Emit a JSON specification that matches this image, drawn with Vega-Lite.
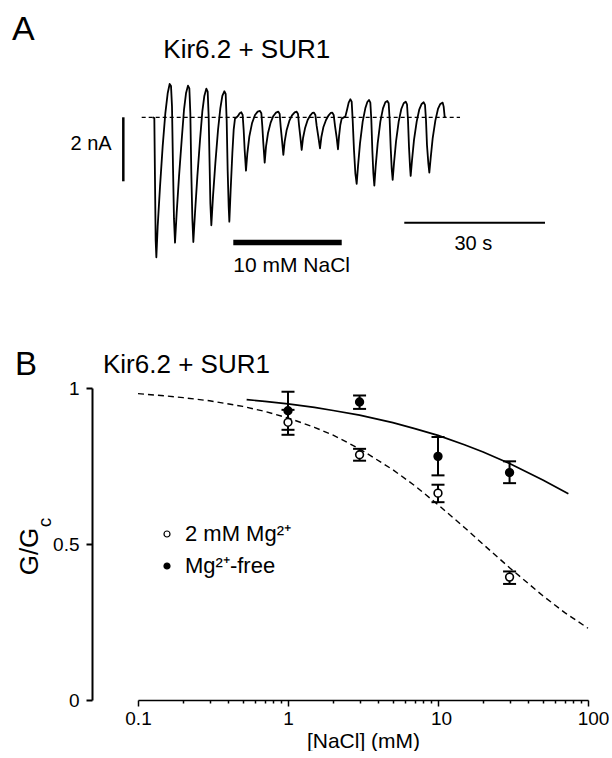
{
  "$schema": "https://vega.github.io/schema/vega-lite/v6.json",
  "background": "white",
  "padding": {"left": 12, "top": 5, "right": 0, "bottom": 0},
  "spacing": 108,
  "bounds": "flush",
  "config": {
    "view": {"stroke": null},
    "font": "Liberation Sans",
    "axis": {"grid": false, "labelFont": "Liberation Sans", "titleFont": "Liberation Sans", "labelColor": "black", "titleColor": "black", "domainColor": "black", "tickColor": "black", "titleFontWeight": "normal"},
    "text": {"font": "Liberation Sans", "color": "black"}
  },
  "vconcat": [
    {
      "width": 450,
      "height": 275,
      "encoding": {
        "x": {"field": "t", "type": "quantitative", "scale": {"domain": [8.085, 103.83], "nice": false, "zero": false}, "axis": null},
        "y": {"field": "i", "type": "quantitative", "scale": {"domain": [-5.084, 3.509], "nice": false, "zero": false}, "axis": null}
      },
      "layer": [
        {
          "data": {"values": [{"t": 8.87, "t2": 76.6, "i": 0}]},
          "mark": {"type": "rule", "color": "black", "strokeWidth": 1.2, "strokeDash": [4, 3]},
          "encoding": {"x2": {"field": "t2"}}
        },
        {
          "data": {"values": [
            {"t": 11.21, "i": 0}, {"t": 11.56, "i": -0.021}, {"t": 11.70, "i": -1.958}, {"t": 11.84, "i": -3.833}, {"t": 11.99, "i": -4.375},
            {"t": 12.27, "i": -3.417}, {"t": 12.77, "i": -2.167}, {"t": 13.33, "i": -0.917}, {"t": 13.90, "i": 0.125}, {"t": 14.40, "i": 0.75},
            {"t": 14.82, "i": 1.042}, {"t": 15.11, "i": 0.979}, {"t": 15.32, "i": 0.333}, {"t": 15.53, "i": -1.542}, {"t": 15.74, "i": -3.167},
            {"t": 15.96, "i": -3.917}, {"t": 16.31, "i": -3.0}, {"t": 16.81, "i": -1.854}, {"t": 17.38, "i": -0.708}, {"t": 17.87, "i": 0.229},
            {"t": 18.30, "i": 0.75}, {"t": 18.72, "i": 0.99}, {"t": 19.01, "i": 0.906}, {"t": 19.22, "i": 0.125}, {"t": 19.43, "i": -1.75},
            {"t": 19.65, "i": -3.167}, {"t": 19.86, "i": -3.896}, {"t": 20.21, "i": -3.0}, {"t": 20.71, "i": -1.854}, {"t": 21.28, "i": -0.708},
            {"t": 21.77, "i": 0.177}, {"t": 22.20, "i": 0.667}, {"t": 22.62, "i": 0.896}, {"t": 22.91, "i": 0.802}, {"t": 23.12, "i": 0.021},
            {"t": 23.33, "i": -1.542}, {"t": 23.48, "i": -2.688}, {"t": 23.69, "i": -3.375}, {"t": 24.04, "i": -2.479}, {"t": 24.54, "i": -1.438},
            {"t": 25.11, "i": -0.396}, {"t": 25.60, "i": 0.281}, {"t": 26.03, "i": 0.667}, {"t": 26.45, "i": 0.813}, {"t": 26.74, "i": 0.729},
            {"t": 26.95, "i": -0.083}, {"t": 27.16, "i": -1.646}, {"t": 27.38, "i": -2.792}, {"t": 27.52, "i": -3.26}, {"t": 27.80, "i": -2.271},
            {"t": 28.16, "i": -1.125}, {"t": 28.44, "i": -0.396}, {"t": 28.72, "i": -0.042}, {"t": 29.08, "i": 0}, {"t": 29.36, "i": 0.042},
            {"t": 29.72, "i": 0.125}, {"t": 30.07, "i": 0.156}, {"t": 30.35, "i": 0.073}, {"t": 30.57, "i": -0.396}, {"t": 30.78, "i": -1.021},
            {"t": 31.06, "i": -1.667}, {"t": 31.35, "i": -1.125}, {"t": 31.77, "i": -0.604}, {"t": 32.34, "i": -0.188}, {"t": 32.98, "i": 0.073},
            {"t": 33.55, "i": 0.177}, {"t": 34.04, "i": 0.198}, {"t": 34.33, "i": 0.125}, {"t": 34.54, "i": -0.292}, {"t": 34.75, "i": -0.813},
            {"t": 35.04, "i": -1.417}, {"t": 35.32, "i": -0.917}, {"t": 35.74, "i": -0.5}, {"t": 36.31, "i": -0.167}, {"t": 36.88, "i": 0.042},
            {"t": 37.45, "i": 0.146}, {"t": 37.94, "i": 0.177}, {"t": 38.23, "i": 0.104}, {"t": 38.44, "i": -0.292}, {"t": 38.72, "i": -0.708},
            {"t": 39.01, "i": -1.177}, {"t": 39.29, "i": -0.76}, {"t": 39.72, "i": -0.396}, {"t": 40.28, "i": -0.115}, {"t": 40.85, "i": 0.063},
            {"t": 41.42, "i": 0.156}, {"t": 41.84, "i": 0.177}, {"t": 42.13, "i": 0.104}, {"t": 42.34, "i": -0.24}, {"t": 42.62, "i": -0.604},
            {"t": 42.91, "i": -1.021}, {"t": 43.19, "i": -0.656}, {"t": 43.62, "i": -0.344}, {"t": 44.18, "i": -0.083}, {"t": 44.75, "i": 0.063},
            {"t": 45.18, "i": 0.135}, {"t": 45.53, "i": 0.146}, {"t": 45.82, "i": 0.073}, {"t": 46.10, "i": -0.271}, {"t": 46.45, "i": -0.604},
            {"t": 46.81, "i": -0.969}, {"t": 47.09, "i": -0.625}, {"t": 47.52, "i": -0.313}, {"t": 48.09, "i": -0.083}, {"t": 48.65, "i": 0.063},
            {"t": 49.08, "i": 0.135}, {"t": 49.43, "i": 0.146}, {"t": 49.72, "i": 0.073}, {"t": 50.00, "i": -0.271}, {"t": 50.35, "i": -0.625},
            {"t": 50.64, "i": -1.0}, {"t": 50.85, "i": -0.604}, {"t": 51.13, "i": -0.24}, {"t": 51.42, "i": -0.042}, {"t": 51.77, "i": -0.01},
            {"t": 52.20, "i": 0.021}, {"t": 52.55, "i": 0.229}, {"t": 52.91, "i": 0.458}, {"t": 53.26, "i": 0.563}, {"t": 53.55, "i": 0.49},
            {"t": 53.76, "i": -0.083}, {"t": 54.04, "i": -1.021}, {"t": 54.33, "i": -1.75}, {"t": 54.61, "i": -2.083}, {"t": 54.89, "i": -1.542},
            {"t": 55.32, "i": -0.813}, {"t": 55.89, "i": -0.135}, {"t": 56.45, "i": 0.281}, {"t": 56.88, "i": 0.479}, {"t": 57.23, "i": 0.542},
            {"t": 57.52, "i": 0.458}, {"t": 57.73, "i": -0.083}, {"t": 57.94, "i": -1.021}, {"t": 58.16, "i": -1.75}, {"t": 58.37, "i": -2.135},
            {"t": 58.65, "i": -1.542}, {"t": 59.08, "i": -0.813}, {"t": 59.65, "i": -0.135}, {"t": 60.21, "i": 0.281}, {"t": 60.71, "i": 0.469},
            {"t": 61.13, "i": 0.51}, {"t": 61.42, "i": 0.438}, {"t": 61.63, "i": -0.083}, {"t": 61.84, "i": -0.917}, {"t": 62.06, "i": -1.594},
            {"t": 62.27, "i": -1.958}, {"t": 62.55, "i": -1.438}, {"t": 62.98, "i": -0.76}, {"t": 63.55, "i": -0.135}, {"t": 64.11, "i": 0.26},
            {"t": 64.61, "i": 0.438}, {"t": 65.04, "i": 0.49}, {"t": 65.32, "i": 0.406}, {"t": 65.53, "i": -0.083}, {"t": 65.74, "i": -0.917},
            {"t": 65.96, "i": -1.542}, {"t": 66.10, "i": -1.833}, {"t": 66.38, "i": -1.354}, {"t": 66.81, "i": -0.708}, {"t": 67.38, "i": -0.135},
            {"t": 67.94, "i": 0.25}, {"t": 68.44, "i": 0.417}, {"t": 68.87, "i": 0.469}, {"t": 69.15, "i": 0.385}, {"t": 69.36, "i": -0.083},
            {"t": 69.57, "i": -0.865}, {"t": 69.86, "i": -1.438}, {"t": 70.07, "i": -1.729}, {"t": 70.35, "i": -1.281}, {"t": 70.78, "i": -0.656},
            {"t": 71.35, "i": -0.104}, {"t": 71.91, "i": 0.26}, {"t": 72.41, "i": 0.417}, {"t": 72.91, "i": 0.458}, {"t": 73.12, "i": 0.333},
            {"t": 73.33, "i": 0.021}, {"t": 73.48, "i": 0}
          ]},
          "mark": {"type": "line", "color": "black", "strokeWidth": 1.8, "strokeJoin": "round"}
        },
        {
          "data": {"values": [{"t": 4.96, "i": 0, "i2": -2}]},
          "mark": {"type": "rule", "color": "black", "strokeWidth": 2.5},
          "encoding": {"y2": {"field": "i2"}}
        },
        {
          "data": {"values": [{"t": 28.36, "t2": 51.43, "i": -3.9125}]},
          "mark": {"type": "rule", "color": "black", "strokeWidth": 5.5},
          "encoding": {"x2": {"field": "t2"}}
        },
        {
          "data": {"values": [{"t": 64.74, "t2": 94.68, "i": -3.294}]},
          "mark": {"type": "rule", "color": "black", "strokeWidth": 2},
          "encoding": {"x2": {"field": "t2"}}
        },
        {
          "data": {"values": [{"t": -18.72, "i": 2.43, "label": "A"}]},
          "mark": {"type": "text", "align": "left", "baseline": "alphabetic", "fontSize": 34},
          "encoding": {"text": {"field": "label"}}
        },
        {
          "data": {"values": [{"t": 13.47, "i": 1.844, "label": "Kir6.2 + SUR1"}]},
          "mark": {"type": "text", "align": "left", "baseline": "alphabetic", "fontSize": 26},
          "encoding": {"text": {"field": "label"}}
        },
        {
          "data": {"values": [{"t": 2.49, "i": -1.022, "label": "2 nA"}]},
          "mark": {"type": "text", "align": "right", "baseline": "alphabetic", "fontSize": 20},
          "encoding": {"text": {"field": "label"}}
        },
        {
          "data": {"values": [{"t": 28.36, "i": -4.834, "label": "10 mM NaCl"}]},
          "mark": {"type": "text", "align": "left", "baseline": "alphabetic", "fontSize": 21},
          "encoding": {"text": {"field": "label"}}
        },
        {
          "data": {"values": [{"t": 79.43, "i": -4.147, "label": "30 s"}]},
          "mark": {"type": "text", "align": "center", "baseline": "alphabetic", "fontSize": 20},
          "encoding": {"text": {"field": "label"}}
        }
      ]
    },
    {
      "width": 450,
      "height": 312,
      "encoding": {
        "x": {
          "field": "conc", "type": "quantitative",
          "scale": {"type": "log", "domain": [0.1, 100], "nice": false},
          "axis": {
            "values": [0.1, 0.2, 0.3, 0.4, 0.5, 0.6, 0.7, 0.8, 0.9, 1, 2, 3, 4, 5, 6, 7, 8, 9, 10, 20, 30, 40, 50, 60, 70, 80, 90, 100],
            "labelExpr": "datum.value == 0.1 ? '0.1' : datum.value == 1 ? '1' : datum.value == 10 ? '10' : datum.value == 100 ? '100' : ''",
            "tickSize": {"condition": {"test": "datum.value == 0.1 || datum.value == 1 || datum.value == 10 || datum.value == 100", "value": 6}, "value": 3},
            "labelOffset": {"condition": [{"test": "datum.value == 100", "value": 5}, {"test": "datum.value == 10", "value": 3}], "value": 0},
            "tickWidth": 1.5, "domainWidth": 1.5,
            "labelFontSize": 19, "labelPadding": 3, "labelOverlap": false, "labelFlush": false, "labelBound": false,
            "title": "[NaCl] (mM)", "titleFontSize": 21, "titlePadding": 2
          }
        },
        "y": {
          "field": "g", "type": "quantitative",
          "scale": {"domain": [0, 1], "nice": false, "zero": false},
          "axis": {
            "values": [0, 0.5, 1],
            "labelExpr": "datum.value == 0 ? '0' : datum.value == 0.5 ? '0.5' : '1'",
            "offset": 46, "tickSize": 6, "tickWidth": 2, "domainWidth": 2,
            "labelFontSize": 19, "labelPadding": 7, "labelBaseline": "middle",
            "title": "G/G", "titleFontSize": 26, "titleAngle": 270, "titleBaseline": "alphabetic", "titleAlign": "center",
            "titleX": -55, "titleY": 163
          }
        }
      },
      "layer": [
        {
          "data": {"values": [
            {"conc": 0.1, "g": 0.982}, {"conc": 0.15, "g": 0.975}, {"conc": 0.2, "g": 0.969}, {"conc": 0.3, "g": 0.959},
            {"conc": 0.5, "g": 0.941}, {"conc": 0.7, "g": 0.925}, {"conc": 1, "g": 0.904}, {"conc": 1.5, "g": 0.874},
            {"conc": 2, "g": 0.849}, {"conc": 3, "g": 0.805}, {"conc": 5, "g": 0.738}, {"conc": 7, "g": 0.687},
            {"conc": 10, "g": 0.626}, {"conc": 15, "g": 0.553}, {"conc": 20, "g": 0.499}, {"conc": 30, "g": 0.424},
            {"conc": 50, "g": 0.334}, {"conc": 70, "g": 0.28}, {"conc": 100, "g": 0.23}
          ]},
          "mark": {"type": "line", "color": "black", "strokeWidth": 1.4, "strokeDash": [6, 4]}
        },
        {
          "data": {"values": [
            {"conc": 0.53, "g": 0.963}, {"conc": 0.7, "g": 0.957}, {"conc": 1, "g": 0.949}, {"conc": 1.5, "g": 0.938},
            {"conc": 2, "g": 0.928}, {"conc": 3, "g": 0.913}, {"conc": 5, "g": 0.889}, {"conc": 7, "g": 0.87},
            {"conc": 10, "g": 0.848}, {"conc": 15, "g": 0.818}, {"conc": 20, "g": 0.795}, {"conc": 30, "g": 0.758},
            {"conc": 50, "g": 0.705}, {"conc": 74, "g": 0.661}
          ]},
          "mark": {"type": "line", "color": "black", "strokeWidth": 1.7}
        },
        {
          "data": {"name": "pts"},
          "mark": {"type": "rule", "color": "black", "strokeWidth": 2},
          "encoding": {
            "y": {
              "field": "lo", "type": "quantitative", "scale": {"domain": [0, 1], "nice": false, "zero": false},
              "axis": {
                "values": [0, 0.5, 1],
                "labelExpr": "datum.value == 0 ? '0' : datum.value == 0.5 ? '0.5' : '1'",
                "offset": 46, "tickSize": 6, "tickWidth": 2, "domainWidth": 2,
                "labelFontSize": 19, "labelPadding": 7, "labelBaseline": "middle",
                "title": "G/G", "titleFontSize": 26, "titleAngle": 270, "titleBaseline": "alphabetic", "titleAlign": "center",
                "titleX": -55, "titleY": 163
              }
            },
            "y2": {"field": "hi"}
          }
        },
        {
          "data": {"name": "pts"},
          "mark": {"type": "tick", "orient": "horizontal", "color": "black", "size": 13, "thickness": 2, "opacity": 1},
          "encoding": {
            "y": {
              "field": "lo", "type": "quantitative", "scale": {"domain": [0, 1], "nice": false, "zero": false},
              "axis": {
                "values": [0, 0.5, 1],
                "labelExpr": "datum.value == 0 ? '0' : datum.value == 0.5 ? '0.5' : '1'",
                "offset": 46, "tickSize": 6, "tickWidth": 2, "domainWidth": 2,
                "labelFontSize": 19, "labelPadding": 7, "labelBaseline": "middle",
                "title": "G/G", "titleFontSize": 26, "titleAngle": 270, "titleBaseline": "alphabetic", "titleAlign": "center",
                "titleX": -55, "titleY": 163
              }
            }
          }
        },
        {
          "data": {"name": "pts"},
          "mark": {"type": "tick", "orient": "horizontal", "color": "black", "size": 13, "thickness": 2, "opacity": 1},
          "encoding": {
            "y": {
              "field": "hi", "type": "quantitative", "scale": {"domain": [0, 1], "nice": false, "zero": false},
              "axis": {
                "values": [0, 0.5, 1],
                "labelExpr": "datum.value == 0 ? '0' : datum.value == 0.5 ? '0.5' : '1'",
                "offset": 46, "tickSize": 6, "tickWidth": 2, "domainWidth": 2,
                "labelFontSize": 19, "labelPadding": 7, "labelBaseline": "middle",
                "title": "G/G", "titleFontSize": 26, "titleAngle": 270, "titleBaseline": "alphabetic", "titleAlign": "center",
                "titleX": -55, "titleY": 163
              }
            }
          }
        },
        {
          "data": {"name": "pts"},
          "mark": {"type": "circle", "stroke": "black", "strokeWidth": 1.6, "size": 60, "opacity": 1},
          "encoding": {
            "fill": {
              "field": "series", "type": "nominal",
              "scale": {"domain": ["2 mM Mg²⁺", "Mg²⁺-free"], "range": ["white", "black"]},
              "legend": {
                "orient": "none", "legendX": 18, "legendY": 518, "title": null, "padding": 0,
                "symbolType": "circle", "symbolSize": 36, "symbolStrokeColor": "black", "symbolStrokeWidth": 1.2,
                "labelFontSize": 22, "labelFont": "Liberation Sans", "labelColor": "black", "labelOffset": 7, "rowPadding": 10
              }
            }
          }
        },
        {
          "data": {"values": [{"conc": 0.01514, "g": 1.0417, "label": "B"}]},
          "mark": {"type": "text", "align": "left", "baseline": "alphabetic", "fontSize": 33},
          "encoding": {"text": {"field": "label"}}
        },
        {
          "data": {"values": [{"conc": 0.05843, "g": 1.0481, "label": "Kir6.2 + SUR1"}]},
          "mark": {"type": "text", "align": "left", "baseline": "alphabetic", "fontSize": 26},
          "encoding": {"text": {"field": "label"}}
        },
        {
          "data": {"values": [{"conc": 0.0263, "g": 0.569, "label": "c"}]},
          "mark": {"type": "text", "align": "center", "baseline": "alphabetic", "fontSize": 19, "angle": 270},
          "encoding": {"text": {"field": "label"}}
        }
      ]
    }
  ],
  "datasets": {
    "pts": [
      {"series": "2 mM Mg²⁺", "conc": 1, "g": 0.89, "lo": 0.85, "hi": 0.93},
      {"series": "2 mM Mg²⁺", "conc": 3, "g": 0.786, "lo": 0.767, "hi": 0.805},
      {"series": "2 mM Mg²⁺", "conc": 10, "g": 0.663, "lo": 0.634, "hi": 0.69},
      {"series": "2 mM Mg²⁺", "conc": 30, "g": 0.394, "lo": 0.372, "hi": 0.412},
      {"series": "Mg²⁺-free", "conc": 1, "g": 0.927, "lo": 0.866, "hi": 0.988},
      {"series": "Mg²⁺-free", "conc": 3, "g": 0.955, "lo": 0.933, "hi": 0.976},
      {"series": "Mg²⁺-free", "conc": 10, "g": 0.781, "lo": 0.72, "hi": 0.843},
      {"series": "Mg²⁺-free", "conc": 30, "g": 0.729, "lo": 0.695, "hi": 0.765}
    ]
  }
}
